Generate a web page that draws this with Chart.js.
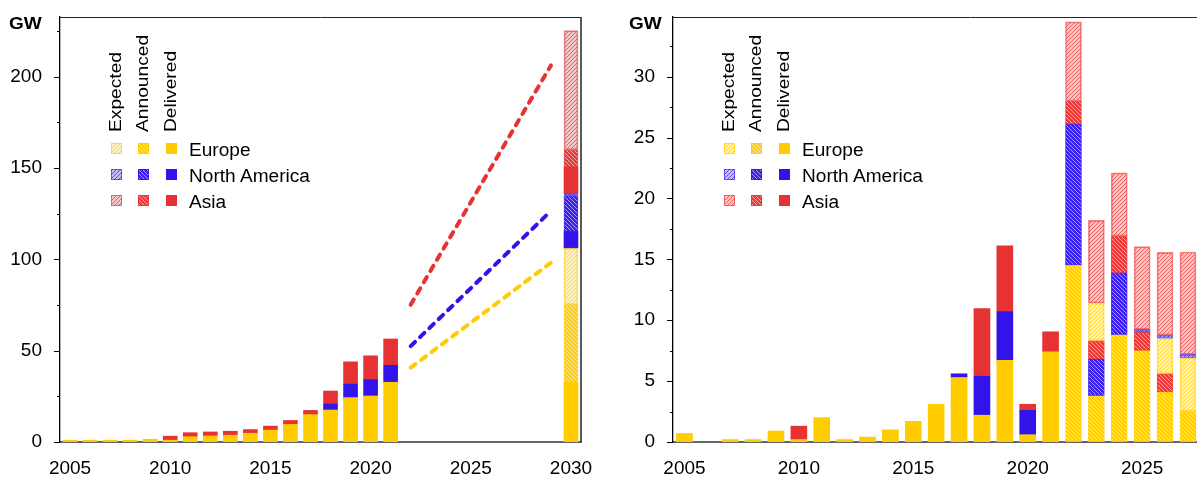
<!DOCTYPE html>
<html>
<head>
<meta charset="utf-8">
<title>Capacity GW</title>
<script src="https://cdn.jsdelivr.net/npm/chart.js@4.4.1/dist/chart.umd.min.js"></script>
<style>
html, body { margin: 0; padding: 0; background: #fff; overflow: hidden; width: 1197px; height: 480px; }
.panel { position: absolute; top: 0; height: 480px; font-family: "Liberation Sans", Arial, Helvetica, sans-serif; color: #000; }
#leftPanel { left: 0; width: 600px; }
#rightPanel { left: 613px; width: 675px; }
.panel canvas { position: absolute; left: 0; top: 0; }
.unit { position: absolute; top: 15px; font-weight: bold; font-size: 17px; line-height: 17px; transform: scaleX(1.12); transform-origin: 0 0; }
.sw { position: absolute; width: 9px; height: 9px; border: 1px solid transparent; }
.head { position: absolute; top: 132px; font-size: 16px; line-height: 16px; white-space: nowrap; transform: rotate(-90deg) scaleX(1.2); transform-origin: 0 0; }
.rowlab { position: absolute; font-size: 18px; line-height: 18px; white-space: nowrap; transform: scaleX(1.06); transform-origin: 0 0; }
</style>
</head>
<body>
<div class="panel" id="leftPanel"><canvas id="leftChart" width="600" height="480"></canvas></div>
<div class="panel" id="rightPanel"><canvas id="rightChart" width="675" height="480"></canvas></div>
<script>
// categories
var years = ['2005', '2006', '2007', '2008', '2009', '2010', '2011', '2012', '2013',
             '2014', '2015', '2016', '2017', '2018', '2019', '2020', '2021', '2022',
             '2023', '2024', '2025', '2026', '2027', '2028', '2029', '2030'];
var historyYears = ['2005', '2006', '2007', '2008', '2009', '2010', '2011', '2012', '2013',
                    '2014', '2015', '2016', '2017', '2018', '2019', '2020', '2021'];
var futureYears = ['2022', '2023', '2024', '2025', '2026', '2027'];

// left chart: cumulative capacity (GW), 2005-2021
var leftEuropeDelivered = [1.0, 1.0, 1.0, 1.0, 1.5, 1.0, 2.9, 3.3, 3.7, 4.8, 6.5, 9.6, 15.0, 17.5, 24.3, 25.2, 32.7];
var leftNorthAmericaDelivered = [null, null, null, null, null, null, null, null, null, null, null, null, null, 3.3, 7.4, 8.9, 9.3];
var leftAsiaDelivered = [null, null, null, null, null, 2.2, 2.2, 2.2, 2.2, 2.0, 2.2, 2.2, 2.3, 7.1, 12.2, 13.1, 14.4];

// left chart: 2030 bar, [delivered, announced, expected]
var bar2030Europe = [32.7, 42.5, 31.0];
var bar2030NorthAmerica = [9.1, 19.5, 1.5];
var bar2030Asia = [14.3, 9.4, 65.2];

// left chart: dashed trend lines
var trendYears = ['2022', '2029'];
var europeTrend = [40.7, 98.2];
var northAmericaTrend = [52.5, 126.5];
var asiaTrend = [75.2, 206.2];

// right chart: yearly additions (GW), 2005-2021
var rightEuropeDelivered = [0.7, null, 0.2, 0.2, 0.9, 0.2, 2.0, 0.2, 0.4, 1.0, 1.7, 3.1, 5.3, 2.2, 6.7, 0.6, 7.4];
var rightNorthAmericaDelivered = [null, null, null, null, null, null, null, null, null, null, null, null, 0.3, 3.2, 4.0, 2.0, null];
var rightAsiaDelivered = [null, null, null, null, null, 1.1, null, null, null, null, null, null, null, 5.55, 5.4, 0.5, 1.65];

// right chart: 2022-2027
var rightEuropeAnnounced = [14.5, 3.8, 8.8, 7.5, 4.1, 2.5];
var rightNorthAmericaAnnounced = [11.6, 3.0, 5.1, null, null, null];
var rightAsiaAnnounced = [1.9, 1.5, 3.0, 1.5, 1.5, null];
var rightEuropeExpected = [null, 3.1, null, null, 2.9, 4.4];
var rightNorthAmericaExpected = [null, null, null, 0.25, 0.27, 0.3];
var rightAsiaExpected = [6.5, 6.8, 5.2, 6.8, 6.8, 8.4];

// axis ranges and ticks
var leftMax = 232.7, leftStep = 50, leftMinor = 25;
var rightMax = 34.9, rightStep = 5, rightMinor = 2.5;

var regions = ['Europe', 'North America', 'Asia'];
var stages = ['Expected', 'Announced', 'Delivered'];
var yellow = [255, 204, 0], blue = [50, 20, 235], red = [230, 50, 50];
var regionColors = [yellow, blue, red];

Chart.defaults.font.family = "'Liberation Sans', Arial, Helvetica, sans-serif";
Chart.defaults.color = '#000';

function rgba(c, a) { return 'rgba(' + c[0] + ',' + c[1] + ',' + c[2] + ',' + a + ')'; }

// small hatch tile: expected = pale with "/" lines, announced = solid with white "\" lines
function hatchTile(c, kind) {
    var t = document.createElement('canvas');
    t.width = 4; t.height = 4;
    var g = t.getContext('2d');
    g.lineWidth = 1;
    g.beginPath();
    if (kind === 'Expected') {
        g.fillStyle = rgba(c, 0.28);
        g.fillRect(0, 0, 4, 4);
        g.strokeStyle = rgba(c, 0.7);
        g.moveTo(0, 4); g.lineTo(4, 0);
        g.moveTo(-1, 1); g.lineTo(1, -1);
        g.moveTo(3, 5); g.lineTo(5, 3);
    } else {
        g.fillStyle = rgba(c, 0.95);
        g.fillRect(0, 0, 4, 4);
        g.strokeStyle = 'rgba(255,255,255,0.55)';
        g.moveTo(0, 0); g.lineTo(4, 4);
        g.moveTo(-1, 3); g.lineTo(1, 5);
        g.moveTo(3, -1); g.lineTo(5, 1);
    }
    g.stroke();
    return t;
}

function fillFor(c, stage) {
    if (stage === 'Delivered') return rgba(c, 1);
    var t = hatchTile(c, stage);
    return t.getContext('2d').createPattern(t, 'repeat');
}

function pts(xs, ys) {
    var out = [];
    for (var i = 0; i < xs.length; i++) {
        if (ys[i] !== null && ys[i] !== undefined) out.push({ x: xs[i], y: ys[i] });
    }
    return out;
}

function barSet(label, c, stage, data, thick) {
    var hatched = stage !== 'Delivered';
    return {
        type: 'bar',
        label: label + ' ' + stage,
        data: data,
        backgroundColor: fillFor(c, stage),
        borderColor: hatched ? rgba(c, stage === 'Expected' ? 0.6 : 0.85) : rgba(c, 1),
        borderWidth: hatched ? 1 : 0,
        borderSkipped: false,
        barThickness: thick
    };
}

function lineSet(label, c, data) {
    return {
        type: 'line',
        label: label,
        data: data,
        stack: 'trend ' + label,
        borderColor: rgba(c, 1),
        borderWidth: 4,
        borderDash: [6, 7],
        borderCapStyle: 'round',
        pointRadius: 0,
        fill: false,
        spanGaps: true,
        tension: 0
    };
}

// y tick marks (major + minor) and the frame lines
var framePlugin = {
    id: 'frame',
    afterDraw: function (chart, args, opts) {
        var ctx = chart.ctx, a = chart.chartArea, y = chart.scales.y;
        ctx.save();
        ctx.strokeStyle = '#000';
        ctx.lineWidth = 1;
        ctx.beginPath();
        var n = Math.floor(y.max / opts.minor + 1e-6);
        for (var i = 0; i <= n; i++) {
            var py = Math.round(y.getPixelForValue(i * opts.minor)) + 0.5;
            var len = (i % 2 === 0) ? 6 : 3;
            ctx.moveTo(a.left - len, py);
            ctx.lineTo(a.left, py);
        }
        ctx.stroke();
        ctx.strokeStyle = '#222';
        ctx.beginPath();
        ctx.moveTo(a.left, a.top + 0.5);
        ctx.lineTo(a.right, a.top + 0.5);
        ctx.stroke();
        if (opts.rightBorder) {
            ctx.lineWidth = 1.5;
            ctx.beginPath();
            ctx.moveTo(a.right, a.top);
            ctx.lineTo(a.right, a.bottom);
            ctx.stroke();
        }
        ctx.restore();
    }
};

function makeOptions(max, step, minor, rightPad, rightBorder) {
    return {
        responsive: false,
        animation: false,
        devicePixelRatio: 1,
        layout: { padding: { top: 17, right: rightPad, left: 0, bottom: 0 } },
        plugins: {
            legend: { display: false },
            tooltip: { enabled: false },
            frame: { minor: minor, rightBorder: rightBorder }
        },
        scales: {
            x: {
                type: 'category',
                labels: years,
                stacked: true,
                offset: true,
                grid: { display: false, drawTicks: false },
                border: { display: true, color: '#666', width: 2 },
                ticks: {
                    autoSkip: false,
                    maxRotation: 0,
                    padding: 15,
                    font: { size: 19 },
                    callback: function (v) {
                        var l = this.getLabelForValue(v);
                        return Number(l) % 5 === 0 ? l : '';
                    }
                },
                afterFit: function (s) {
                    s.height = 38;
                    s.paddingLeft = 0; s.paddingRight = 0;
                }
            },
            y: {
                stacked: true,
                min: 0,
                max: max,
                grid: { display: false, drawTicks: false },
                border: { display: true, color: '#000', width: 1.3 },
                ticks: { stepSize: step, includeBounds: false, padding: 18, font: { size: 19 } },
                afterFit: function (s) {
                    s.width = 60;
                    s.paddingTop = 0; s.paddingBottom = 0;
                }
            }
        }
    };
}

// left chart datasets: per region delivered, announced, expected
var leftHistory = [leftEuropeDelivered, leftNorthAmericaDelivered, leftAsiaDelivered];
var left2030 = [bar2030Europe, bar2030NorthAmerica, bar2030Asia];
var leftSets = [];
for (var r = 0; r < 3; r++) {
    leftSets.push(barSet(regions[r], regionColors[r], 'Delivered',
        pts(historyYears, leftHistory[r]).concat([{ x: '2030', y: left2030[r][0] }]), 14));
    leftSets.push(barSet(regions[r], regionColors[r], 'Announced', [{ x: '2030', y: left2030[r][1] }], 14));
    leftSets.push(barSet(regions[r], regionColors[r], 'Expected', [{ x: '2030', y: left2030[r][2] }], 14));
}
leftSets.push(lineSet('Europe trend', yellow, pts(trendYears, europeTrend)));
leftSets.push(lineSet('North America trend', blue, pts(trendYears, northAmericaTrend)));
leftSets.push(lineSet('Asia trend', red, pts(trendYears, asiaTrend)));

new Chart(document.getElementById('leftChart').getContext('2d'), {
    type: 'bar',
    data: { labels: years, datasets: leftSets },
    options: makeOptions(leftMax, leftStep, leftMinor, 19, true),
    plugins: [framePlugin]
});

// right chart datasets: all delivered, then announced, then expected
var rightSets = [
    barSet('Europe', yellow, 'Delivered', pts(historyYears, rightEuropeDelivered), 16),
    barSet('North America', blue, 'Delivered', pts(historyYears, rightNorthAmericaDelivered), 16),
    barSet('Asia', red, 'Delivered', pts(historyYears, rightAsiaDelivered), 16),
    barSet('Europe', yellow, 'Announced', pts(futureYears, rightEuropeAnnounced), 16),
    barSet('North America', blue, 'Announced', pts(futureYears, rightNorthAmericaAnnounced), 16),
    barSet('Asia', red, 'Announced', pts(futureYears, rightAsiaAnnounced), 16),
    barSet('Europe', yellow, 'Expected', pts(futureYears, rightEuropeExpected), 16),
    barSet('North America', blue, 'Expected', pts(futureYears, rightNorthAmericaExpected), 16),
    barSet('Asia', red, 'Expected', pts(futureYears, rightAsiaExpected), 16)
];

new Chart(document.getElementById('rightChart').getContext('2d'), {
    type: 'bar',
    data: { labels: years, datasets: rightSets },
    options: makeOptions(rightMax, rightStep, rightMinor, 20, false),
    plugins: [framePlugin]
});

// legend and unit label, as page text
function addLegend(panel, unitLeft) {
    var p = document.getElementById(panel);
    var unit = document.createElement('div');
    unit.className = 'unit';
    unit.style.left = unitLeft + 'px';
    unit.textContent = 'GW';
    p.appendChild(unit);

    var colLeft = [110.5, 138, 166];
    var headLeft = [108, 135.3, 163];
    var rowTop = [143.3, 169.3, 195.2];
    for (var s = 0; s < 3; s++) {
        var h = document.createElement('div');
        h.className = 'head';
        h.style.left = headLeft[s] + 'px';
        h.textContent = stages[s];
        p.appendChild(h);
    }
    for (var r = 0; r < 3; r++) {
        for (var s2 = 0; s2 < 3; s2++) {
            var sw = document.createElement('div');
            sw.className = 'sw';
            sw.style.left = colLeft[s2] + 'px';
            sw.style.top = rowTop[r] + 'px';
            var c = regionColors[r];
            if (stages[s2] === 'Delivered') {
                sw.style.background = rgba(c, 1);
                sw.style.borderColor = rgba(c, 1);
            } else {
                sw.style.backgroundImage = 'url(' + hatchTile(c, stages[s2]).toDataURL() + ')';
                sw.style.borderColor = rgba(c, stages[s2] === 'Expected' ? 0.6 : 0.85);
            }
            p.appendChild(sw);
        }
        var lab = document.createElement('div');
        lab.className = 'rowlab';
        lab.style.left = '189px';
        lab.style.top = (rowTop[r] - 2.3) + 'px';
        lab.textContent = regions[r];
        p.appendChild(lab);
    }
}
addLegend('leftPanel', 9.3);
addLegend('rightPanel', 15.6);
</script>
</body>
</html>
